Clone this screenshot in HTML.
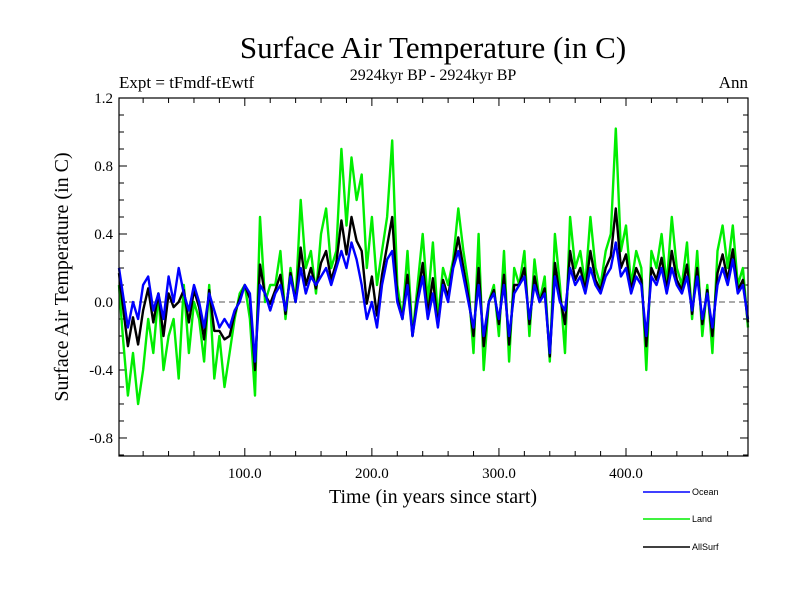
<!DOCTYPE html>
<html><head><meta charset="utf-8"><style>
body{margin:0;background:#fff;}
svg{display:block;font-family:"Liberation Serif",serif;}
</style></head><body>
<svg id="chart" width="800" height="600" viewBox="0 0 800 600" xmlns="http://www.w3.org/2000/svg">
<text x="433" y="58" font-size="31" text-anchor="middle">Surface Air Temperature (in C)</text>
<text x="433" y="80" font-size="16" text-anchor="middle">2924kyr BP - 2924kyr BP</text>
<text x="119" y="88" font-size="17">Expt = tFmdf-tEwtf</text>
<text x="748" y="88" font-size="17" text-anchor="end">Ann</text>
<text transform="translate(68,277) rotate(-90)" font-size="20" text-anchor="middle">Surface Air Temperature (in C)</text>
<text x="433" y="503" font-size="20" text-anchor="middle">Time (in years since start)</text>
<g id="axes"></g>
<g id="series"></g>
<rect x="119" y="98" width="629" height="358" fill="none" stroke="#000" stroke-width="1.2"/>
<g font-family="Liberation Sans, sans-serif" font-size="9">
<line x1="643" y1="492" x2="690" y2="492" stroke="#0000ff" stroke-width="1.5"/>
<text x="692" y="495">Ocean</text>
<line x1="643" y1="519" x2="690" y2="519" stroke="#00ee00" stroke-width="1.5"/>
<text x="692" y="522">Land</text>
<line x1="643" y1="547" x2="690" y2="547" stroke="#000" stroke-width="1.5"/>
<text x="692" y="550">AllSurf</text>
</g>
</svg>
<script>
const years = [];
for (let i = 0; i < 125; i++) years.push(i * 4);
const landValues = [0.1,-0.2,-0.55,-0.3,-0.6,-0.4,
-0.1,-0.3,0.05,-0.4,-0.2,
-0.1,-0.45,0.1,-0.3,0.0,
-0.1,-0.35,0.1,-0.45,-0.2,-0.5,
-0.3,-0.1,0.05,0.1,
-0.1,-0.55,0.5,0.0,0.1,
0.1,0.3,-0.1,0.2,0.0,0.6,
0.2,0.3,0.05,0.4,0.55,0.2,
0.3,0.9,0.45,0.85,0.6,0.75,
0.2,0.5,0.1,0.3,0.5,0.95,
0.1,-0.1,0.3,-0.2,0.1,0.4,
0.0,0.35,-0.1,0.2,0.1,0.25,
0.55,0.3,0.1,-0.3,0.4,-0.4,
0.0,0.1,-0.2,0.3,-0.35,0.2,
0.1,0.3,-0.2,0.25,0.0,0.15,
-0.35,0.4,0.1,-0.3,0.5,0.2,
0.3,0.1,0.5,0.2,0.1,0.3,
0.4,1.02,0.3,0.45,0.1,0.3,
0.2,-0.4,0.3,0.2,0.4,0.1,
0.5,0.2,0.1,0.35,-0.1,0.3,
-0.2,0.1,-0.3,0.3,0.45,0.2,
0.45,0.1,0.2,-0.15,0.0];
const oceanValues = [0.2,0.05,-0.15,0.0,-0.1,0.1,
0.15,-0.05,0.05,-0.1,0.15,
0.0,0.2,0.05,-0.05,0.1,
0.0,-0.15,0.05,-0.05,-0.15,-0.1,
-0.15,-0.05,0.0,0.1,
0.05,-0.35,0.1,0.05,-0.05,
0.05,0.1,-0.05,0.15,0.0,0.2,
0.05,0.15,0.1,0.15,0.2,0.1,
0.2,0.3,0.2,0.35,0.25,0.1,
-0.1,0.0,-0.15,0.1,0.25,0.3,
0.0,-0.1,0.1,-0.2,0.0,0.15,
-0.1,0.05,-0.15,0.1,0.0,0.2,
0.3,0.15,0.0,-0.15,0.1,-0.2,
0.0,0.05,-0.1,0.1,-0.2,0.05,
0.1,0.15,-0.1,0.1,0.0,0.05,
-0.3,0.15,0.0,-0.05,0.2,0.1,
0.15,0.05,0.2,0.1,0.05,0.15,
0.2,0.35,0.15,0.2,0.05,0.15,
0.1,-0.2,0.15,0.1,0.2,0.05,
0.2,0.1,0.05,0.15,-0.05,0.15,
-0.1,0.05,-0.15,0.1,0.2,0.1,
0.25,0.05,0.1,-0.1,-0.05];
const allSurfValues = [0.17,-0.02,-0.26,-0.09,-0.25,-0.05,
0.08,-0.12,0.05,-0.2,0.05,
-0.03,0.0,0.07,-0.12,0.07,
-0.03,-0.22,0.07,-0.17,-0.17,-0.22,
-0.2,-0.07,0.02,0.1,
0.02,-0.4,0.22,0.04,-0.01,
0.07,0.16,-0.07,0.17,0.0,0.32,
0.1,0.2,0.08,0.23,0.3,0.13,
0.23,0.48,0.28,0.5,0.36,0.3,
-0.01,0.15,-0.08,0.16,0.33,0.5,
0.03,-0.1,0.16,-0.2,0.03,0.23,
-0.07,0.14,-0.14,0.13,0.03,0.22,
0.38,0.2,0.03,-0.2,0.2,-0.26,
0.0,0.07,-0.13,0.16,-0.25,0.1,
0.1,0.2,-0.13,0.15,0.0,0.08,
-0.32,0.23,0.03,-0.13,0.3,0.13,
0.2,0.07,0.3,0.13,0.07,0.2,
0.27,0.55,0.2,0.28,0.07,0.2,
0.13,-0.26,0.2,0.13,0.26,0.07,
0.3,0.13,0.07,0.22,-0.07,0.2,
-0.13,0.07,-0.2,0.17,0.28,0.13,
0.31,0.07,0.13,-0.12,-0.03];
const yTickValues = [1.2,0.8,0.4,0.0,-0.4,-0.8];
const yTickLabels = ["1.2","0.8","0.4","0.0","-0.4","-0.8"];
const xTickValues = [100,200,300,400];
const xTickLabels = ["100.0","200.0","300.0","400.0"];

const NS = "http://www.w3.org/2000/svg";
const X0 = 119, X1 = 748, Y0 = 98, Y1 = 456;
const xMin = 1, xMax = 496, yMin = -0.906, yMax = 1.2;
function xs(v){ return X0 + (v - xMin) / (xMax - xMin) * (X1 - X0); }
function ys(v){ return Y1 - (v - yMin) / (yMax - yMin) * (Y1 - Y0); }

const axes = document.getElementById('axes');
function line(parent, x1, y1, x2, y2, stroke, w, dash){
  const l = document.createElementNS(NS, 'line');
  l.setAttribute('x1', x1); l.setAttribute('y1', y1);
  l.setAttribute('x2', x2); l.setAttribute('y2', y2);
  l.setAttribute('stroke', stroke); l.setAttribute('stroke-width', w);
  if (dash) l.setAttribute('stroke-dasharray', dash);
  parent.appendChild(l);
  return l;
}
for (let k = -9; k <= 12; k++) {
  const v = k / 10;
  const y = ys(v);
  if (y < Y0 - 0.5 || y > Y1 + 0.5) continue;
  const major = (k % 4 === 0);
  const len = major ? 8 : 5;
  const t1 = line(axes, X0, y, X0 + len, y, '#000', 1);
  
  
  const t2 = line(axes, X1 - len, y, X1, y, '#000', 1);
  
  
}
yTickValues.forEach((v, i) => {
  const t = document.createElementNS(NS, 'text');
  t.setAttribute('x', X0 - 6); t.setAttribute('y', ys(v) + 5);
  t.setAttribute('font-size', '15'); t.setAttribute('text-anchor', 'end');
  t.textContent = yTickLabels[i];
  
  
  axes.appendChild(t);
});
for (let v = 20; v <= 480; v += 20) {
  const major = (v % 100 === 0);
  const len = major ? 8 : 5;
  const x = xs(v);
  const a = line(axes, x, Y1, x, Y1 - len, '#000', 1);
  
  
  const b = line(axes, x, Y0, x, Y0 + len, '#000', 1);
  
  
}
xTickValues.forEach((v, i) => {
  const t = document.createElementNS(NS, 'text');
  t.setAttribute('x', xs(v)); t.setAttribute('y', Y1 + 22);
  t.setAttribute('font-size', '15'); t.setAttribute('text-anchor', 'middle');
  t.textContent = xTickLabels[i];
  
  
  axes.appendChild(t);
});
const zl = line(axes, X0, ys(0), X1, ys(0), '#555', 1, '6,4');



const series = document.getElementById('series');
function drawSeries(vals, color, name){
  const pts = years.map((yr, i) => xs(Math.max(xMin, yr)).toFixed(1) + ',' + ys(vals[i]).toFixed(1)).join(' ');
  const p = document.createElementNS(NS, 'polyline');
  p.setAttribute('points', pts);
  p.setAttribute('fill', 'none');
  p.setAttribute('stroke', color);
  p.setAttribute('stroke-width', '2.4');
  p.setAttribute('stroke-linejoin', 'round');
  
  
  series.appendChild(p);
}
drawSeries(landValues, '#00ee00', 'land-series');
drawSeries(allSurfValues, '#000000', 'allsurf-series');
drawSeries(oceanValues, '#0000ff', 'ocean-series');
</script>
</body></html>
